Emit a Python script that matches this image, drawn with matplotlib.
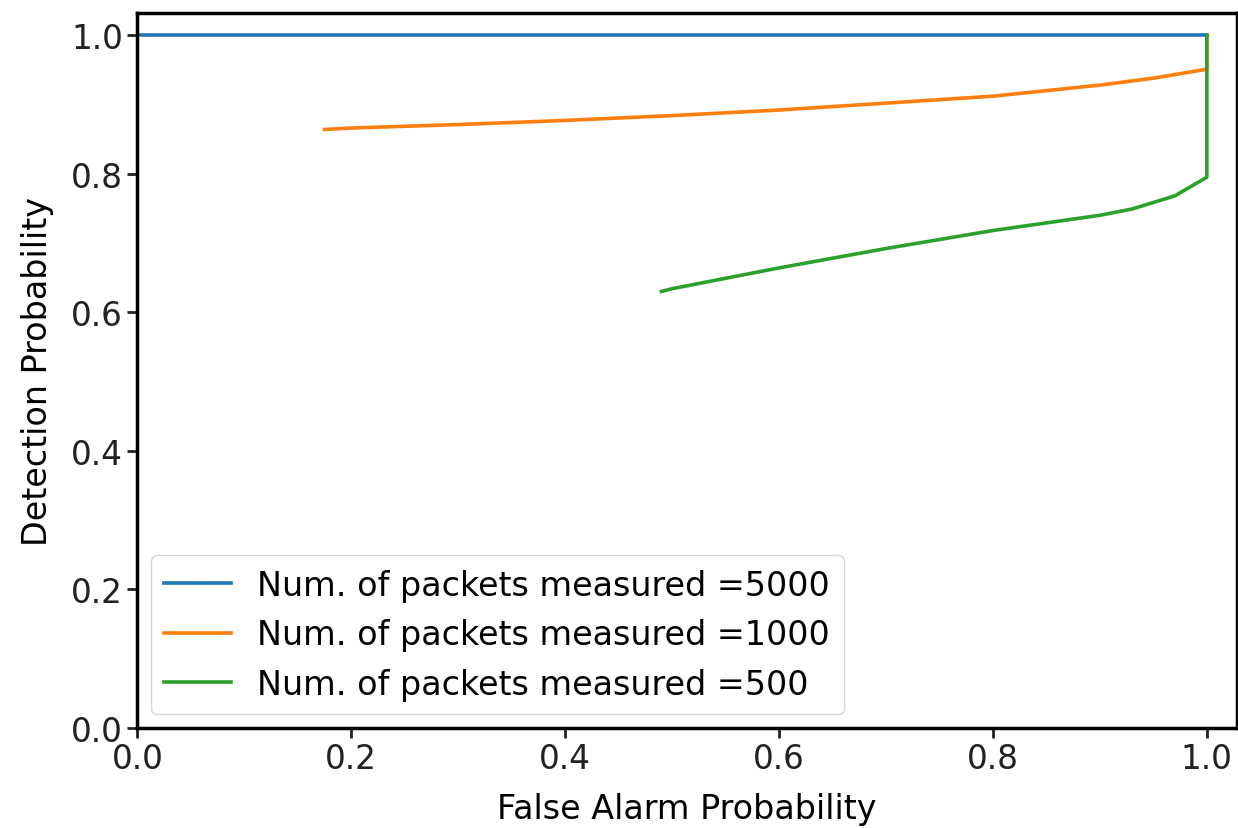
import matplotlib
matplotlib.use("Agg")
import matplotlib.pyplot as plt

# ROC curves
fa_5000 = [0.0, 0.25, 0.5, 0.75, 1.0]
pd_5000 = [1.0, 1.0, 1.0, 1.0, 1.0]

fa_1000 = [0.175, 0.2, 0.3, 0.4, 0.5, 0.6, 0.7, 0.8, 0.9, 0.95, 1.0, 1.0]
pd_1000 = [0.864, 0.866, 0.871, 0.877, 0.884, 0.892, 0.902, 0.912, 0.928, 0.938, 0.951, 1.0]

fa_500 = [0.49, 0.5, 0.6, 0.7, 0.8, 0.9, 0.93, 0.97, 1.0, 1.0]
pd_500 = [0.630, 0.634, 0.664, 0.692, 0.718, 0.740, 0.749, 0.768, 0.795, 1.0]

labels = ['Num. of packets measured =5000',
          'Num. of packets measured =1000',
          'Num. of packets measured =500']

plt.rcParams['font.size'] = 24
fig = plt.figure(figsize=(12.38, 8.29), dpi=100)
ax = fig.add_axes([0.111, 0.121, 0.888, 0.862])

ax.plot(fa_5000, pd_5000, color='tab:blue', lw=2.6, label=labels[0])
ax.plot(fa_1000, pd_1000, color='tab:orange', lw=2.6, label=labels[1])
ax.plot(fa_500, pd_500, color='tab:green', lw=2.6, label=labels[2])

ax.set_xlim(0, 1.028)
ax.set_ylim(0, 1.032)
ax.set_xticks([0.0, 0.2, 0.4, 0.6, 0.8, 1.0])
ax.set_yticks([0.0, 0.2, 0.4, 0.6, 0.8, 1.0])
ax.set_xlabel('False Alarm Probability', labelpad=12)
ax.set_ylabel('Detection Probability', labelpad=12)

for sp in ax.spines.values():
    sp.set_linewidth(2.5)
ax.tick_params(width=2, length=7, labelsize=23.5, colors='#222222')

ax.legend(loc='lower left', fontsize=24, borderaxespad=0.4)

fig.savefig('out.png', dpi=100)
